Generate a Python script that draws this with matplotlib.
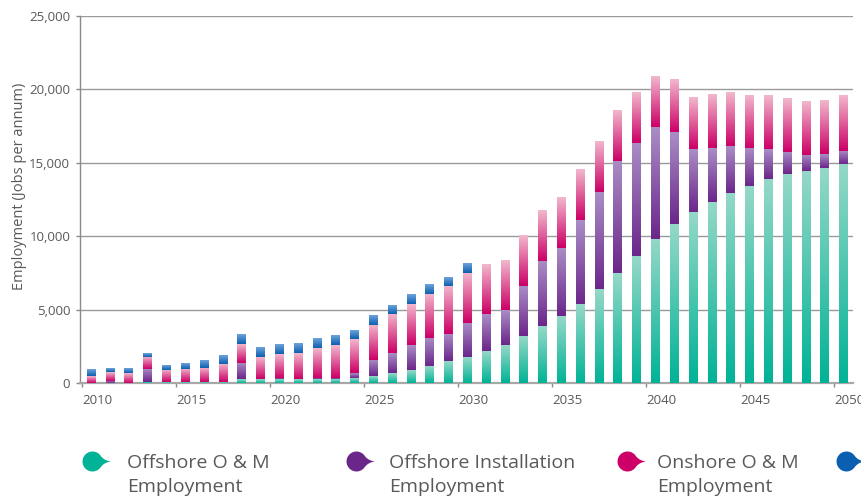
import numpy as np
import matplotlib
matplotlib.use("Agg")
import matplotlib.pyplot as plt
from matplotlib.colors import LinearSegmentedColormap
from matplotlib.path import Path
from matplotlib.ticker import FuncFormatter

# ---------------- data ----------------
years = list(range(2010, 2051))

offshore_om = [0, 0, 0, 70, 40, 50, 50, 50, 270, 270,
               250, 270, 250, 250, 340, 450, 660, 860, 1130, 1480,
               1750, 2150, 2560, 3170, 3850, 4530, 5350, 6370, 7460, 8620,
               9840, 10860, 11680, 12360, 12970, 13450, 13920, 14260, 14470, 14670,
               14940]
offshore_inst = [0, 150, 0, 890, 0, 0, 0, 0, 1090, 0,
                 70, 0, 90, 90, 340, 1090, 1360, 1700, 1910, 1840,
                 2320, 2520, 2380, 3470, 4490, 4690, 5720, 6670, 7690, 7760,
                 7620, 6260, 4290, 3670, 3200, 2590, 2040, 1500, 1090, 950,
                 890]
onshore_om = [450, 580, 660, 820, 820, 890, 1000, 1230, 1270, 1480,
              1630, 1750, 2020, 2230, 2290, 2390, 2660, 2790, 3000, 3270,
              3410, 3340, 3400, 3470, 3470, 3470, 3470, 3470, 3470, 3470,
              3470, 3610, 3540, 3670, 3670, 3610, 3670, 3670, 3670, 3670,
              3810]
onshore_inst = [450, 250, 320, 250, 320, 390, 480, 610, 680, 680,
                680, 680, 680, 680, 610, 680, 610, 680, 680, 610,
                680, 0, 0, 0, 0, 0, 0, 0, 0, 0,
                0, 0, 0, 0, 0, 0, 0, 0, 0, 0,
                0]

series_labels = ["Offshore O & M\nEmployment",
                 "Offshore Installation\nEmployment",
                 "Onshore O & M\nEmployment",
                 "Onshore Installation\nEmployment"]
xtick_years = [2010, 2015, 2020, 2025, 2030, 2035, 2040, 2045, 2050]
y_ticks = [0, 5000, 10000, 15000, 20000, 25000]
y_label = "Employment (Jobs per annum)"

# ---------------- styles ----------------
base_colors = ["#00B396", "#6B268A", "#CC0066", "#0B5FB0"]
light_colors = ["#96D8C8", "#AA8EC6", "#F2B8CD", "#6FA3DA"]

FONT = "Open Sans"
TXT = "#595959"

W, H = 861, 497
fig = plt.figure(figsize=(W / 100, H / 100), dpi=100)
ax = fig.add_axes([80 / W, 1 - 383 / H, (853 - 80) / W, (383 - 16) / H])

series = [offshore_om, offshore_inst, onshore_om, onshore_inst]
xs = np.array(years) + 0.5
bottom = np.zeros(len(years))
grad = np.linspace(0, 1, 128).reshape(-1, 1)
for vals, c0, c1 in zip(series, base_colors, light_colors):
    vals = np.array(vals, dtype=float)
    bars = ax.bar(xs, vals, width=0.47, bottom=bottom, color="none",
                  edgecolor="none", zorder=3)
    cmap = LinearSegmentedColormap.from_list("g", [c0, c1])
    for p in bars.patches:
        h = p.get_height()
        if h <= 0:
            continue
        x0, y0, w = p.get_x(), p.get_y(), p.get_width()
        ax.imshow(grad, extent=[x0, x0 + w, y0, y0 + h], origin="lower",
                  aspect="auto", cmap=cmap, interpolation="bilinear", zorder=3)
    bottom += vals

ax.set_xlim(2009.9, 2051.0)
ax.set_ylim(0, 25000)
ax.set_yticks(y_ticks)
ax.yaxis.set_major_formatter(FuncFormatter(lambda v, p: f"{v:,.0f}"))
ax.set_xticks(xtick_years)
ax.set_xticklabels([str(y) for y in xtick_years])
for lab in ax.get_xticklabels():
    lab.set_horizontalalignment("left")

ax.grid(axis="y", color="#9a9a9a", linewidth=1.0, zorder=1)
ax.set_axisbelow(True)
for s in ["top", "right"]:
    ax.spines[s].set_visible(False)
ax.spines["left"].set_color("#8a8a8a")
ax.spines["left"].set_linewidth(1.0)
ax.spines["bottom"].set_color("#a8a8a8")
ax.spines["bottom"].set_linewidth(1.6)
ax.tick_params(axis="y", direction="out", length=3, width=1, color="#8a8a8a",
               pad=4, labelsize=9.5, labelcolor=TXT)
ax.tick_params(axis="x", direction="out", length=3, width=1, color="#8a8a8a",
               pad=5, labelsize=9.5, labelcolor=TXT)
for lab in ax.get_xticklabels() + ax.get_yticklabels():
    lab.set_family(FONT)
ax.set_ylabel(y_label, fontsize=10.5, color=TXT, family=FONT)
ax.yaxis.set_label_coords(-0.068, 0.537)

# ---------------- legend (pixel overlay) ----------------
ov = fig.add_axes([0, 0, 1, 1])
ov.set_xlim(0, W)
ov.set_ylim(H, 0)
ov.axis("off")

theta = np.linspace(np.radians(35), np.radians(325), 80)
arc = np.column_stack([np.cos(theta), np.sin(theta)])
t = np.linspace(0, 1, 20).reshape(-1, 1)
p0 = arc[-1]; tip = np.array([1.85, 0.0]); c_lo = np.array([1.15, -0.1])
lower = (1 - t) ** 2 * p0 + 2 * (1 - t) * t * c_lo + t ** 2 * tip
p3 = arc[0]; c_hi = np.array([1.15, 0.1])
upper = (1 - t) ** 2 * tip + 2 * (1 - t) * t * c_hi + t ** 2 * p3
verts = np.vstack([arc, lower[1:], upper[1:-1], arc[:1]])
codes = [Path.MOVETO] + [Path.LINETO] * (len(verts) - 2) + [Path.CLOSEPOLY]
drop = Path(verts, codes)

marker_x = [92, 356, 627, 846]
text_x = [127, 389, 657, 880]
for mx, tx, lab, c in zip(marker_x, text_x, series_labels, base_colors):
    ov.plot([mx], [461], marker=drop, markersize=26.6, color=c,
            markeredgewidth=0, linestyle="none")
    if tx < W:
        l1, l2 = lab.split("\n")
        ov.text(tx, 468.5, l1, fontsize=14, color=TXT, family=FONT,
                ha="left", va="baseline")
        ov.text(tx, 492, l2, fontsize=14, color=TXT, family=FONT,
                ha="left", va="baseline")

fig.savefig("out.png", dpi=100)
